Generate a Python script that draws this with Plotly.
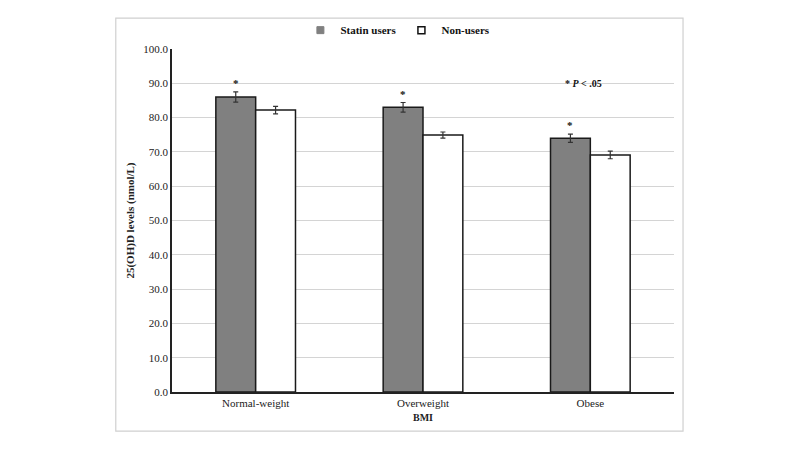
import plotly.graph_objs as go

# data
categories = ['Normal-weight', 'Overweight', 'Obese']
statin_users = [86.0, 83.0, 74.0]
statin_err = [1.5, 1.4, 1.2]
non_users = [82.2, 74.9, 69.1]
non_err = [1.1, 0.9, 1.1]
y_ticks = [0, 10, 20, 30, 40, 50, 60, 70, 80, 90, 100]

font_name = 'Liberation Serif'
edge = {'color': '#1a1a1a', 'width': 1.5}

trace1 = go.Bar(x=categories, y=statin_users, name='Statin users', showlegend=False,
                marker={'color': '#808080', 'line': edge},
                error_y={'type': 'data', 'array': statin_err, 'color': '#333333',
                         'thickness': 1.2, 'width': 2.5})
trace2 = go.Bar(x=categories, y=non_users, name='Non-users', showlegend=False,
                marker={'color': 'white', 'line': edge},
                error_y={'type': 'data', 'array': non_err, 'color': '#333333',
                         'thickness': 1.2, 'width': 2.5})
# legend entries with small square keys, like the original
key1 = go.Scatter(x=[None], y=[None], mode='markers', name='<b>Statin users</b>',
                  marker={'symbol': 'square', 'size': 7, 'color': '#808080',
                          'line': {'color': '#808080', 'width': 1}})
key2 = go.Scatter(x=[None], y=[None], mode='markers', name='<b>Non-users</b>',
                  marker={'symbol': 'square', 'size': 7, 'color': 'white',
                          'line': {'color': '#111', 'width': 1.5}})

# significance stars above the statin bars
stars = []
for c, v, e in zip(categories, statin_users, statin_err):
    stars.append(dict(x=c, y=v + e, text='<b>*</b>', showarrow=False, xshift=-20,
                      yanchor='bottom', yshift=1, font={'family': font_name, 'size': 11, 'color': '#111'}))

layout = go.Layout(
    width=800, height=450,
    paper_bgcolor='white', plot_bgcolor='white',
    font={'family': font_name, 'color': '#222', 'size': 11},
    barmode='group', bargap=0.524, bargroupgap=0,
    margin={'l': 164, 'r': 134, 't': 41, 'b': 66, 'autoexpand': False},
    showlegend=True,
    legend={'orientation': 'h', 'x': 0.45, 'xanchor': 'center', 'y': 1.055, 'yanchor': 'middle',
            'font': {'family': font_name, 'size': 11, 'color': '#111'},
            'itemwidth': 30, 'traceorder': 'normal', 'bgcolor': 'rgba(0,0,0,0)'},
    xaxis={'title': {'text': '<b>BMI</b>', 'font': {'size': 10}, 'standoff': 6},
           'automargin': False, 'fixedrange': True,
           'showline': True, 'linecolor': '#222', 'linewidth': 1.5, 'ticks': '',
           'tickfont': {'size': 11}},
    yaxis={'title': {'text': '<b>25(OH)D levels (nmol/L)</b>', 'font': {'size': 11}, 'standoff': 6},
           'automargin': False,
           'range': [0, 100], 'tickvals': y_ticks, 'tickformat': '.1f',
           'showline': True, 'linecolor': '#222', 'linewidth': 1.5,
           'showgrid': True, 'gridcolor': '#d4d4d4', 'gridwidth': 1,
           'zeroline': False, 'tickfont': {'size': 11}, 'ticks': ''},
    shapes=[dict(type='rect', xref='paper', yref='paper', x0=-0.112, x1=1.018, y0=-0.114, y1=1.09,
                 line={'color': '#d0d0d0', 'width': 1.2}, layer='below')],
    annotations=stars + [dict(x=0.86, y=0.92, xref='paper', yref='paper', showarrow=False,
                              text='<b>* <i>P</i> < .05</b>',
                              font={'family': font_name, 'size': 10, 'color': '#111'})],
)

fig = go.Figure([trace1, trace2, key1, key2], layout=layout)
fig.write_html('out.html')
